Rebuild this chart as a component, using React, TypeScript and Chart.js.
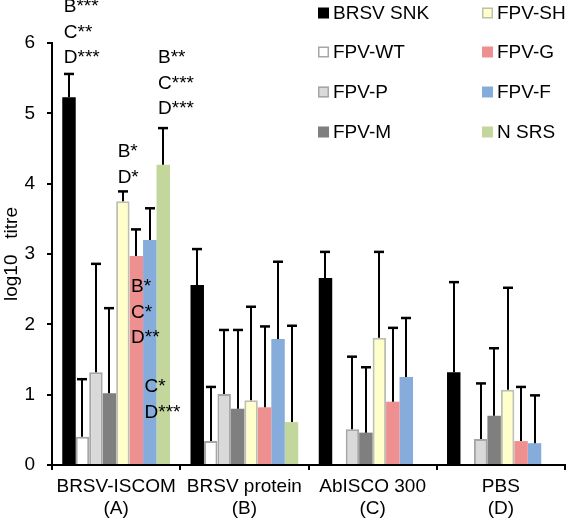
import React, { useEffect, useRef } from "react";
import { Chart, registerables } from "chart.js";

Chart.register(...registerables);

// ---------- DATA ----------
const categories: string[][] = [
  ["BRSV-ISCOM", "(A)"],
  ["BRSV protein", "(B)"],
  ["AbISCO 300", "(C)"],
  ["PBS", "(D)"],
];

const seriesNames = ["BRSV SNK", "FPV-WT", "FPV-P", "FPV-M", "FPV-SH", "FPV-G", "FPV-F", "N SRS"];

// mean log10 titre per category
const brsvSnk = [5.23, 2.56, 2.66, 1.32];
const fpvWt = [0.4, 0.34, null, null];
const fpvP = [1.32, 1.01, 0.51, 0.37];
const fpvM = [1.02, 0.8, 0.46, 0.7];
const fpvSh = [3.75, 0.92, 1.81, 1.07];
const fpvG = [2.97, 0.82, 0.9, 0.34];
const fpvF = [3.2, 1.79, 1.25, 0.31];
const nSrs = [4.27, 0.61, null, null];

// upper error (SD) per category
const brsvSnkErr = [0.33, 0.51, 0.37, 1.28];
const fpvWtErr = [0.82, 0.77, null, null];
const fpvPErr = [1.54, 0.91, 1.03, 0.79];
const fpvMErr = [1.21, 1.12, 0.93, 0.96];
const fpvShErr = [0.14, 1.33, 1.22, 1.45];
const fpvGErr = [0.38, 1.15, 1.05, 0.77];
const fpvFErr = [0.45, 1.1, 0.84, 0.68];
const nSrsErr = [0.52, 1.37, null, null];

const yTicks = [0, 1, 2, 3, 4, 5, 6];
const yTitle = "log10   titre";

// significance labels: category index, series index, first line value (y), lines
const sigCategory = [0, 0, 0, 0, 0];
const sigSeries = [0, 4, 7, 5, 6];
const sigValue = [6.51, 4.45, 5.79, 2.53, 1.11];
const sigLines = [
  ["B***", "C**", "D***"],
  ["B*", "D*"],
  ["B**", "C***", "D***"],
  ["B*", "C*", "D**"],
  ["C*", "D***"],
];

// ---------- STYLE ----------
const FONT = "'Liberation Sans', Arial, Helvetica, sans-serif";
const FS = 19;
const fillColors = ["#000000", "#ffffff", "#d9d9d9", "#7f7f7f", "#ffffcc", "#ee9090", "#86acdb", "#c3d69b"];
const edgeColors = ["#000000", "#a6a6a6", "#a6a6a6", "#7f7f7f", "#bfbfb0", "#ee9090", "#86acdb", "#c3d69b"];
const edgeWidths = [0, 2, 2, 0, 2, 0, 0, 0];

const legendCols = [318, 482];
const legendRows = [13, 52, 92, 132];

const allValues = [brsvSnk, fpvWt, fpvP, fpvM, fpvSh, fpvG, fpvF, nSrs];
const allErrors = [brsvSnkErr, fpvWtErr, fpvPErr, fpvMErr, fpvShErr, fpvGErr, fpvFErr, nSrsErr];

const errorBarPlugin = {
  id: "errorBars",
  afterDatasetsDraw(chart: any) {
    const ctx = chart.ctx;
    const yScale = chart.scales.y;
    ctx.save();
    ctx.strokeStyle = "#000";
    chart.data.datasets.forEach((ds: any, i: number) => {
      const meta = chart.getDatasetMeta(i);
      meta.data.forEach((el: any, j: number) => {
        const v = ds.data[j];
        const e = ds.errors[j];
        if (v == null || e == null) return;
        const x = Math.round(el.x);
        const yb = yScale.getPixelForValue(v);
        const yt = yScale.getPixelForValue(v + e);
        ctx.lineWidth = 2;
        ctx.beginPath();
        ctx.moveTo(x, yb);
        ctx.lineTo(x, yt);
        ctx.stroke();
        ctx.lineWidth = 2.5;
        ctx.beginPath();
        ctx.moveTo(x - 5, yt);
        ctx.lineTo(x + 5, yt);
        ctx.stroke();
      });
    });
    ctx.restore();
  },
};

const annotationPlugin = {
  id: "sigLabels",
  afterDraw(chart: any) {
    const ctx = chart.ctx;
    const yScale = chart.scales.y;
    ctx.save();
    ctx.font = `${FS}px ${FONT}`;
    ctx.fillStyle = "#000";
    ctx.textAlign = "left";
    ctx.textBaseline = "middle";
    sigLines.forEach((lines, k) => {
      const el = chart.getDatasetMeta(sigSeries[k]).data[sigCategory[k]];
      const x = el.x - el.width / 2 + 1.5;
      const y0 = yScale.getPixelForValue(sigValue[k]);
      lines.forEach((t, n) => ctx.fillText(t, x, y0 + n * 25.5));
    });
    ctx.restore();
  },
};

const legendPlugin = {
  id: "customLegend",
  afterDraw(chart: any) {
    const ctx = chart.ctx;
    ctx.save();
    ctx.font = `${FS}px ${FONT}`;
    ctx.textAlign = "left";
    ctx.textBaseline = "middle";
    chart.data.datasets.forEach((ds: any, i: number) => {
      const col = Math.floor(i / 4);
      const row = i % 4;
      const x = legendCols[col];
      const y = legendRows[row];
      ctx.fillStyle = ds.backgroundColor;
      ctx.fillRect(x, y - 5.5, 11, 11);
      if (ds.borderWidth > 0) {
        ctx.strokeStyle = ds.borderColor;
        ctx.lineWidth = 1.5;
        ctx.strokeRect(x + 0.75, y - 4.75, 9.5, 9.5);
      }
      ctx.fillStyle = "#000";
      ctx.fillText(ds.label, x + 15, y + 1);
    });
    ctx.restore();
  },
};

export default function App() {
  const ref = useRef<HTMLCanvasElement | null>(null);

  useEffect(() => {
    document.body.style.margin = "0";
    if (!ref.current) return;
    const chart = new Chart(ref.current, {
      type: "bar",
      data: {
        labels: categories,
        datasets: seriesNames.map((name, i) => ({
          label: name,
          data: allValues[i],
          errors: allErrors[i],
          backgroundColor: fillColors[i],
          borderColor: edgeColors[i],
          borderWidth: edgeWidths[i],
          categoryPercentage: 0.84,
          barPercentage: 1,
        })) as any,
      },
      options: {
        animation: false,
        responsive: false,
        devicePixelRatio: 1,
        layout: { padding: { top: 43, right: 3, left: 0, bottom: 0 } },
        plugins: {
          legend: { display: false },
          tooltip: { enabled: false },
        },
        scales: {
          x: {
            afterFit: (s: any) => {
              s.height = 56;
            },
            ticks: {
              font: { family: FONT, size: FS, lineHeight: 1.15 },
              color: "#000",
              padding: 6,
              maxRotation: 0,
              autoSkip: false,
            },
            grid: {
              offset: true,
              drawOnChartArea: false,
              drawTicks: true,
              tickLength: 5,
              color: "#000",
              lineWidth: 2,
            },
            border: { display: true, color: "#000", width: 2 },
          },
          y: {
            min: 0,
            max: 6,
            afterFit: (s: any) => {
              s.width = 52;
            },
            afterBuildTicks: (s: any) => {
              s.ticks = yTicks.map((v) => ({ value: v }));
            },
            ticks: {
              font: { family: FONT, size: FS },
              color: "#000",
              padding: 12,
            },
            grid: {
              drawOnChartArea: false,
              drawTicks: true,
              tickLength: 5,
              color: "#000",
              lineWidth: 2,
            },
            border: { display: true, color: "#000", width: 2 },
            title: {
              display: true,
              text: yTitle,
              font: { family: FONT, size: FS },
              color: "#000",
              padding: { top: 0, bottom: 0 },
            },
          },
        },
      } as any,
      plugins: [errorBarPlugin, annotationPlugin, legendPlugin],
    });
    return () => chart.destroy();
  }, []);

  return (
    <div style={{ width: 568, height: 521, background: "#fff" }}>
      <canvas ref={ref} width={568} height={521} style={{ display: "block" }} />
    </div>
  );
}
